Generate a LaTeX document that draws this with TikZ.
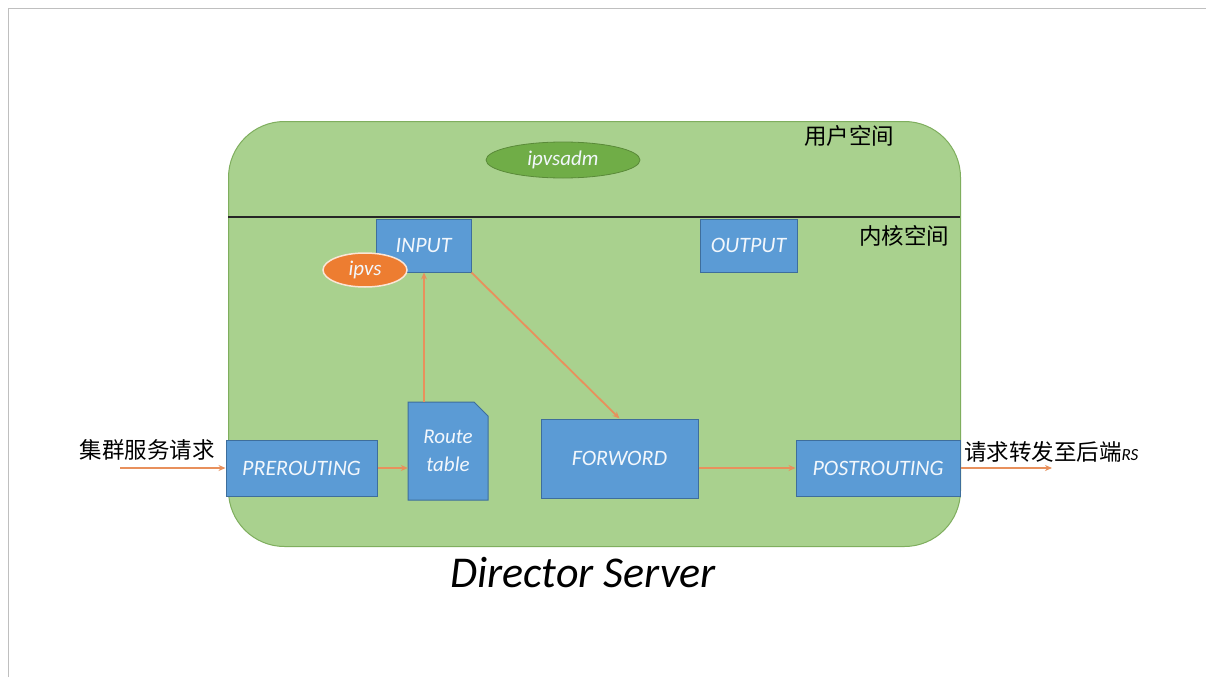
\documentclass[tikz,border=0pt]{standalone}
\usepackage{fontspec}
\setmainfont{Carlito}
\newfontfamily\cjk{Noto Sans CJK SC}
\usetikzlibrary{arrows.meta,shapes.geometric,calc}
\definecolor{bluefill}{HTML}{5B9BD5}
\definecolor{blueborder}{HTML}{3E6E9C}
\definecolor{grnfill}{HTML}{A9D18E}
\definecolor{grnborder}{HTML}{7FAE5E}
\definecolor{darkgrn}{HTML}{70AD47}
\definecolor{orangefill}{HTML}{ED7D31}
\definecolor{orangeedge}{HTML}{FBE5D6}
\definecolor{arrowcol}{HTML}{E8905C}
\definecolor{boxtext}{HTML}{F2F7FC}
\tikzset{
  bluebox/.style={draw=blueborder, line width=1pt, fill=bluefill, text=boxtext,
    font=\itshape\fontsize{22}{26}\selectfont, inner sep=0pt, align=center},
  flow/.style={draw=arrowcol, line width=1.8pt, -{Stealth[length=7pt,width=6pt]}},
  cjklabel/.style={font=\cjk\fontsize{22.5}{26}\selectfont, inner sep=0pt},
}
\begin{document}
\begin{tikzpicture}[x=1pt,y=-1pt]
\useasboundingbox (0,0) rectangle (1206,677);
\fill[white] (0,0) rectangle (1206,677);
\draw[black!25, line width=1.5pt] (8.5,677) -- (8.5,8.5) -- (1206,8.5);

% server area
\node[draw=grnborder, line width=1pt, fill=grnfill, rounded corners=56pt,
      minimum width=732pt, minimum height=425pt, inner sep=0pt, anchor=north west]
      (server) at (228,121) {};
\coordinate (divL) at (228,217);
\coordinate (divR) at (960,217);
\draw[black!85, line width=2pt] (divL) -- (divR);

\node[cjklabel] (user) at (849,136) {用户空间};
\node[cjklabel] (kernel) at (904,236) {内核空间};

\node[ellipse, draw=darkgrn!80!black, line width=0.8pt, fill=darkgrn, minimum width=154pt, minimum height=36pt,
      inner sep=0pt, text=boxtext, font=\itshape\fontsize{21}{24}\selectfont] (adm) at (563,160) {ipvsadm};

% boxes
\node[bluebox, minimum width=95pt, minimum height=53pt] (in) at (423.5,245.5) {INPUT};
\node[bluebox, minimum width=97pt, minimum height=53pt] (out) at (748.5,245.5) {OUTPUT};
\node[bluebox, minimum width=151pt, minimum height=56pt] (pre) at (301.5,468) {PREROUTING};
\node[bluebox, minimum width=157pt, minimum height=79pt] (fwd) at (619.5,458.5) {FORWORD};
\node[bluebox, minimum width=164pt, minimum height=56pt] (post) at (878,468) {POSTROUTING};

% route table (snipped corner)
\filldraw[draw=blueborder, line width=1pt, fill=bluefill]
  (408,402) -- (474,402) -- (488,416) -- (488,500) -- (408,500) -- cycle;
\node[text=boxtext, font=\itshape\fontsize{21}{28}\selectfont, align=center, inner sep=0pt,
      minimum width=80pt, minimum height=98pt] (rt) at (448,451) {Route\\table};

\node[ellipse, draw=orangeedge, line width=1.5pt, fill=orangefill, minimum width=84pt, minimum height=34pt,
      inner sep=0pt, text=boxtext, font=\itshape\fontsize{21}{24}\selectfont] (ipvs) at (365,270) {ipvs};

% connectors
\coordinate (src) at (120,468);
\coordinate (dst) at (1052,468);
\coordinate (rtup) at (424,402);
\draw[flow] (src) -- (pre.west);
\draw[flow] (pre.east) -- (pre.east -| rt.west);
\draw[flow] (rtup) -- (rtup |- in.south);
\draw[flow] (in.south east) -- (fwd.north);
\draw[flow] (fwd.east |- post.west) -- (post.west);
\draw[flow] (post.east) -- (dst);

% outside labels
\node[cjklabel] (req) at (147,450) {集群服务请求};
\node[cjklabel, anchor=west] (fwdlabel) at (964,452) {请求转发至后端{\normalfont\itshape\fontsize{17}{19}\selectfont RS}};

\node[font=\itshape\fontsize{44}{48}\selectfont, inner sep=0pt] (title) at (583,573) {Director Server};
\end{tikzpicture}
\end{document}
